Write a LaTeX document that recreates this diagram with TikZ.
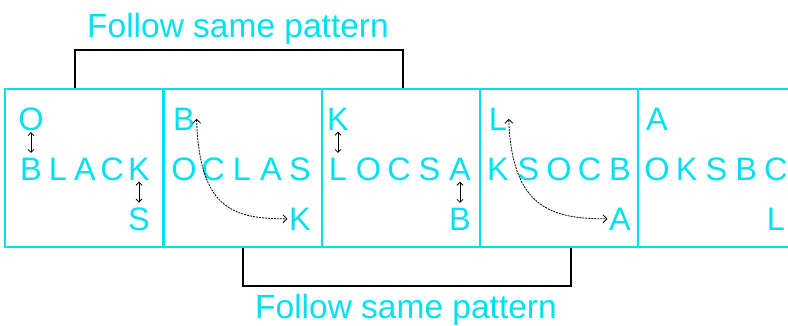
\documentclass[tikz,border=0pt]{standalone}
\usepackage{fontspec}
\setmainfont{Liberation Sans}
\usetikzlibrary{arrows.meta}
\definecolor{aqua}{RGB}{0,225,240}

\begin{document}
\begin{tikzpicture}[x=1pt,y=-1pt,
  cell/.style={draw=aqua, line width=2.5pt, minimum width=158pt, minimum height=158pt, inner sep=0pt},
  ltr/.style={text=aqua, font=\fontsize{32.5}{32.5}\selectfont, anchor=base, inner sep=1.5pt},
  tag/.style={text=aqua, font=\fontsize{33.5}{33.5}\selectfont, anchor=base},
  xchg/.style={{Straight Barb[length=3pt]}-{Straight Barb[length=3pt]}, line width=0.8pt, shorten >=3pt},
  jump/.style={{Straight Barb[length=4pt]}-{Straight Barb[length=4pt]}, line width=0.8pt, dash pattern=on 2pt off 1pt},
  bracket/.style={line width=2pt}]
  \useasboundingbox (0,0) rectangle (788,325);

  % กล่อง
  \node[cell] (box1) at (84,168) {};
  \node[cell] (box2) at (243,168) {};
  \node[cell] (box3) at (401,168) {};
  \node[cell] (box4) at (559,168) {};
  \draw[aqua, line width=2.5pt] (788,89) -- (638,89) -- (638,247) -- (788,247);

  % ตัวอักษร
  \foreach \nr/\xa/\dx/\hi/\row/\lo in {1/31/27/O/{B,L,A,C,K}/S, 2/184/29/B/{O,C,L,A,S}/K,
      3/338/30.5/K/{L,O,C,S,A}/B, 4/498/30.5/L/{K,S,O,C,B}/A, 5/657/29.7/A/{O,K,S,B,C}/L} {
    \node[ltr] (t\nr) at (\xa,130) {\hi};
    \foreach \c [count=\j from 0] in \row
      \node[ltr] (m\nr\j) at (\xa+\j*\dx,180) {\c};
    \node[ltr] (b\nr) at (\xa+4*\dx,230) {\lo};
  }

  % ลูกศร
  \draw[xchg] (t1) -- (m10);
  \draw[xchg] (m14) -- (b1);
  \draw[xchg] (t3) -- (m30);
  \draw[xchg] (m34) -- (b3);
  \draw[jump] (t2.east) .. controls +(3,90) and +(-55,0) .. (b2.west);
  \draw[jump] (t4.east) .. controls +(3,90) and +(-55,0) .. (b4.west);

  % วงเล็บ
  \draw[bracket] ([xshift=-9pt]box1.north) -- ++(0,-38) -| ([xshift=2pt]box3.north);
  \draw[bracket] (box2.south) -- ++(0,38) -| ([xshift=12pt]box4.south);
  \node[tag] (upper) at (238,37) {Follow same pattern};
  \node[tag] (lower) at (406,318) {Follow same pattern};
\end{tikzpicture}
\end{document}
